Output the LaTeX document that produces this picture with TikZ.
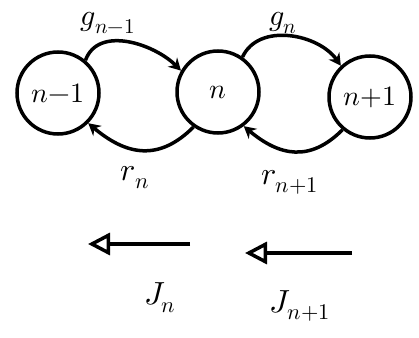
\documentclass[tikz,border=0pt]{standalone}
\usepackage{unicode-math}
\usetikzlibrary{arrows.meta}
\begin{document}
\begin{tikzpicture}[x=1pt,y=-1pt,
  state/.style={circle,draw,line width=3.5pt,minimum size=82pt,inner sep=0pt,font=\fontsize{28}{30}\selectfont},
  flow/.style={line width=3.5pt,-{Stealth[length=12pt,width=13pt]}},
  current/.style={line width=3.5pt,-{Triangle[open,length=22pt,width=22pt,line width=3.5pt]}},
  lbl/.style={font=\fontsize{32}{34}\selectfont,inner sep=0pt},
  toplbl/.style={font=\fontsize{30}{32}\selectfont,inner sep=0pt,anchor=base}]
\useasboundingbox (0,0) rectangle (419,337);
\node[state] (a) at (58,93) {$n{-}1$};
\node[state] (b) at (218,92) {$n$};
\node[state,minimum size=82pt] (c) at (370,97) {$n{+}1$};
\draw[flow] (a.50) to[out=70,in=135,looseness=1.0] (b.150);
\draw[flow] (b.55) to[out=65,in=125,looseness=1.0] (c.133);
\draw[flow] (b.235) to[out=-135,in=-40,looseness=1.2] (a.-45);
\draw[flow] (c.230) to[out=-135,in=-40,looseness=1.2] (b.-53);
\node[toplbl] (gnm) at (108,26) {$g_{n-1}$};
\node[toplbl] (gn) at (283,26) {$g_{n}$};
\node[lbl] (rn) at (135,178) {$r_{n}$};
\node[lbl] (rnp) at (290,182) {$r_{n+1}$};
\coordinate (j1s) at (190,244);
\coordinate (j1e) at (88,244);
\coordinate (j2s) at (352,253);
\coordinate (j2e) at (245,253);
\draw[current] (j1s) -- (j1e);
\draw[current] (j2s) -- (j2e);
\node[lbl] (jn) at (160,298) {$J_{n}$};
\node[lbl] (jnp) at (300,306) {$J_{n+1}$};
\end{tikzpicture}
\end{document}
